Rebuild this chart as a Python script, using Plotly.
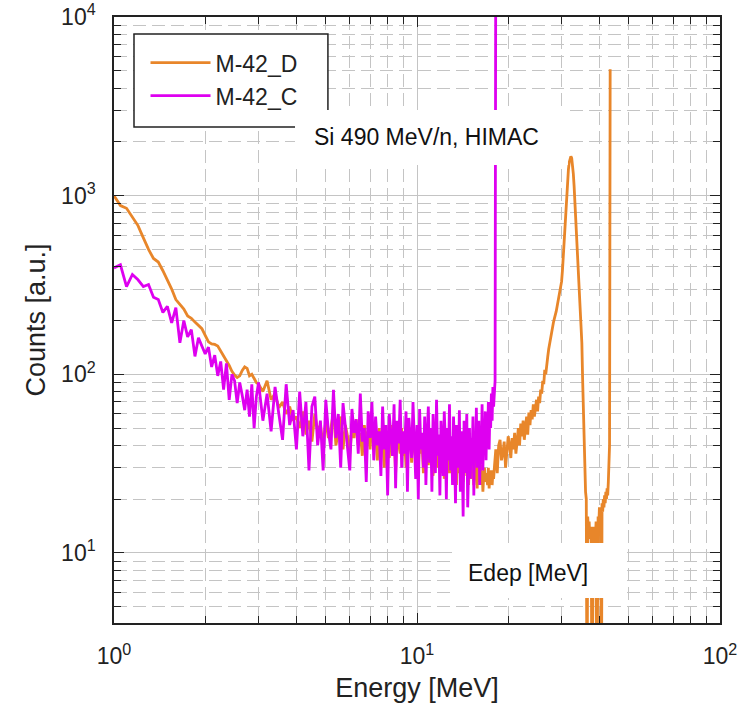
import plotly.graph_objects as go

# ---------------- data ----------------
# Energy grids (MeV): fine bins at low energy, coarser at high energy
E_LOW_START, E_LOW_STEP = 1.0, 0.05      # 1.00 .. 2.95
E_MID_START, E_MID_STEP = 3.0, 0.1       # 3.0 .. 17.9
E_HIGH_START, E_HIGH_STEP = 18.0, 0.2    # 18.0 .. 43.4 (M-42_D)
E_TAIL_C = [18.0, 18.1, 18.2]            # M-42_C end + spike

# M-42_D counts
d_low = [1000, 880, 850, 760, 680, 580, 500, 445, 425, 380,
         340, 300, 262, 245, 232, 212, 206, 196, 188, 180,
         165, 152, 148, 147, 144, 135, 126, 120, 112, 104,
         99, 96, 98, 105, 110, 108, 98, 100, 94, 90]
d_mid = [88, 80, 92, 72, 78, 65, 70, 60, 66, 55,
         58, 50, 62, 46, 55, 42, 60, 48, 52, 40,
         55, 44, 50, 62, 40, 48, 58, 38, 52, 45,
         36, 50, 44, 56, 40, 47, 35, 52, 42, 48,
         38, 54, 42, 46, 33, 50, 40, 44, 30, 48,
         40, 34, 52, 38, 45, 28, 46, 40, 36, 50,
         35, 44, 30, 48, 38, 42, 32, 46, 39, 34,
         44, 30, 42, 36, 40, 28, 45, 34, 38, 31,
         42, 33, 38, 27, 44, 35, 30, 40, 36, 28,
         39, 32, 42, 26, 37, 34, 30, 41, 28, 36,
         33, 27, 38, 30, 35, 24, 36, 31, 28, 34,
         30, 36, 25, 33, 29, 38, 27, 32, 24, 35,
         31, 26, 34, 28, 24, 33, 27, 30, 23, 32,
         28, 25, 31, 24, 29, 22, 27, 30, 25, 28,
         26, 24, 30, 23, 27, 25, 29, 24, 28, 26]
d_high = [30, 38, 28, 40, 43, 33, 36, 42, 30, 38,
          45, 40, 34, 44, 38, 47, 36, 42, 50, 40,
          53, 45, 55, 43, 50, 58, 46, 61, 52, 63,
          56, 68, 58, 66, 72, 62, 75, 69, 82, 78,
          92, 88, 106, 100, 118, 125, 138, 150, 158, 172,
          180, 195, 205, 212, 225, 240, 255, 270, 290, 310,
          330, 380, 470, 580, 700, 850, 1020, 1220, 1400, 1540,
          1630, 1660, 1620, 1500, 1330, 1130, 920, 760, 620, 500,
          400, 330, 270, 220, 185, 150, 95, 58, 40, 30,
          22, 20, 1, 16, 13, 15, 12, 14, 11, 1,
          12, 14, 11, 13, 12, 15, 1, 13, 16, 14,
          18, 15, 17, 1, 19, 17, 20, 18, 21, 19,
          22, 20, 23, 21, 25, 30, 40, 5100]

# M-42_C counts
c_low = [394, 410, 310, 362, 338, 310, 318, 270, 262, 222,
         240, 194, 236, 150, 200, 162, 178, 126, 160, 145,
         130, 142, 110, 128, 98, 118, 82, 115, 72, 100,
         92, 69, 90, 76, 63, 82, 58, 88, 50, 75]
c_mid = [90, 55, 78, 48, 85, 60, 43, 88, 52, 63,
         38, 80, 45, 70, 29, 66, 75, 40, 55, 29,
         72, 48, 38, 82, 44, 60, 30, 69, 52, 41,
         29, 64, 47, 56, 36, 78, 42, 50, 25, 62,
         44, 70, 33, 58, 40, 48, 27, 66, 38, 52,
         21, 60, 43, 35, 68, 23, 55, 41, 72, 30,
         48, 36, 62, 22, 57, 44, 34, 70, 40, 26,
         52, 20, 64, 38, 47, 30, 58, 24, 45, 66,
         32, 50, 22, 60, 40, 28, 72, 35, 46, 21,
         55, 38, 27, 62, 43, 20, 50, 33, 68, 29,
         45, 24, 58, 36, 19, 52, 40, 30, 63, 22,
         48, 35, 16, 55, 28, 42, 60, 18, 38, 50,
         26, 44, 33, 58, 21, 47, 36, 65, 30, 40,
         55, 24, 48, 37, 68, 29, 52, 41, 62, 33,
         58, 45, 70, 38, 62, 50, 78, 55, 85, 66]
c_tail = [88, 92, 30000]

X_TICKS = [1, 10, 100]
X_TICKTEXT = ["10<sup>0</sup>", "10<sup>1</sup>", "10<sup>2</sup>"]
Y_TICKS = [10, 100, 1000, 10000]
Y_TICKTEXT = ["10<sup>1</sup>", "10<sup>2</sup>", "10<sup>3</sup>", "10<sup>4</sup>"]
X_MINOR = [2, 3, 4, 5, 6, 7, 8, 9, 20, 30, 40, 50, 60, 70, 80, 90]
Y_MINOR = [5, 6, 7, 8, 9, 20, 30, 40, 50, 60, 70, 80, 90,
           200, 300, 400, 500, 600, 700, 800, 900,
           2000, 3000, 4000, 5000, 6000, 7000, 8000, 9000]


def grid(start, step, n):
    return [round(start + step * i, 3) for i in range(n)]


E_D = (grid(E_LOW_START, E_LOW_STEP, len(d_low))
       + grid(E_MID_START, E_MID_STEP, len(d_mid))
       + grid(E_HIGH_START, E_HIGH_STEP, len(d_high)))
Y_D = d_low + d_mid + d_high
E_C = (grid(E_LOW_START, E_LOW_STEP, len(c_low))
       + grid(E_MID_START, E_MID_STEP, len(c_mid))
       + E_TAIL_C)
Y_C = c_low + c_mid + c_tail

ORANGE = "#E8862A"
MAGENTA = "#DE00F0"
GRID = "#c4c4c4"
FONT = "Liberation Sans, Arial, sans-serif"

fig = go.Figure()
fig.add_trace(go.Scatter(x=E_D, y=Y_D, mode="lines", name="M-42_D",
                         line=dict(color=ORANGE, width=2.8)))
fig.add_trace(go.Scatter(x=E_C, y=Y_C, mode="lines", name="M-42_C",
                         line=dict(color=MAGENTA, width=2.8)))

axis_common = dict(
    type="log", showline=True, linecolor="#222", linewidth=1.5, mirror="ticks",
    ticks="inside", ticklen=10, tickwidth=1.2, tickcolor="#222",
    showgrid=True, gridcolor=GRID, gridwidth=1.3, zeroline=False, automargin=False,
    ticklabeloverflow="allow",
    tickfont=dict(family=FONT, size=23, color="#222"),
)

fig.update_xaxes(
    **axis_common, range=[0, 2], tickmode="array", tickvals=X_TICKS, ticktext=X_TICKTEXT,
    ticklabelstandoff=12,
    minor=dict(tickmode="array", tickvals=X_MINOR, ticks="inside", ticklen=7,
               tickcolor="#222", showgrid=True, gridcolor=GRID, gridwidth=1.3,
               griddash="13px,6px"),
    title=dict(text="Energy [MeV]", font=dict(family=FONT, size=27, color="#222"), standoff=10),
)
fig.update_yaxes(
    **axis_common, range=[0.608, 4], tickmode="array", tickvals=Y_TICKS, ticktext=Y_TICKTEXT,
    ticklabelstandoff=12,
    minor=dict(tickmode="array", tickvals=Y_MINOR, ticks="inside", ticklen=7,
               tickcolor="#222", showgrid=True, gridcolor=GRID, gridwidth=1.3,
               griddash="13px,6px"),
    title=dict(text="Counts [a.u.]", font=dict(family=FONT, size=27, color="#222"), standoff=8),
)

# white boxes (legend frame and labels)
fig.add_shape(type="rect", xref="paper", yref="paper", x0=0.033, x1=0.353, y0=0.8185, y1=0.972,
              fillcolor="white", line=dict(color="#222", width=1.5), layer="above")
fig.add_shape(type="rect", xref="paper", yref="paper", x0=0.2987, x1=0.749, y0=0.7558, y1=0.8465,
              fillcolor="white", line=dict(width=0), layer="above")
fig.add_shape(type="rect", xref="paper", yref="paper", x0=0.5578, x1=0.8465, y0=0.0413, y1=0.132,
              fillcolor="white", line=dict(width=0), layer="above")

fig.add_annotation(text="Si 490 MeV/n, HIMAC", xref="paper", yref="paper", x=0.3267, y=0.802,
                   xanchor="left", yanchor="middle", showarrow=False,
                   font=dict(family=FONT, size=23, color="#111"))
fig.add_annotation(text="Edep [MeV]", xref="paper", yref="paper", x=0.5808, y=0.0825,
                   xanchor="left", yanchor="middle", showarrow=False,
                   font=dict(family=FONT, size=23, color="#111"))

fig.update_layout(
    width=741, height=719,
    margin=dict(l=114, r=21, t=17, b=96, autoexpand=False),
    paper_bgcolor="white", plot_bgcolor="white",
    showlegend=True,
    legend=dict(x=0.052, y=0.96, xanchor="left", yanchor="top",
                bgcolor="rgba(0,0,0,0)", borderwidth=0, itemwidth=60,
                font=dict(family=FONT, size=23, color="#222")),
)

# remove the browser's default 8px body margin so the figure sits at the window's origin
fig.write_html("out.html", config={"displayModeBar": False},
               post_script="document.body.style.margin='0px';")
